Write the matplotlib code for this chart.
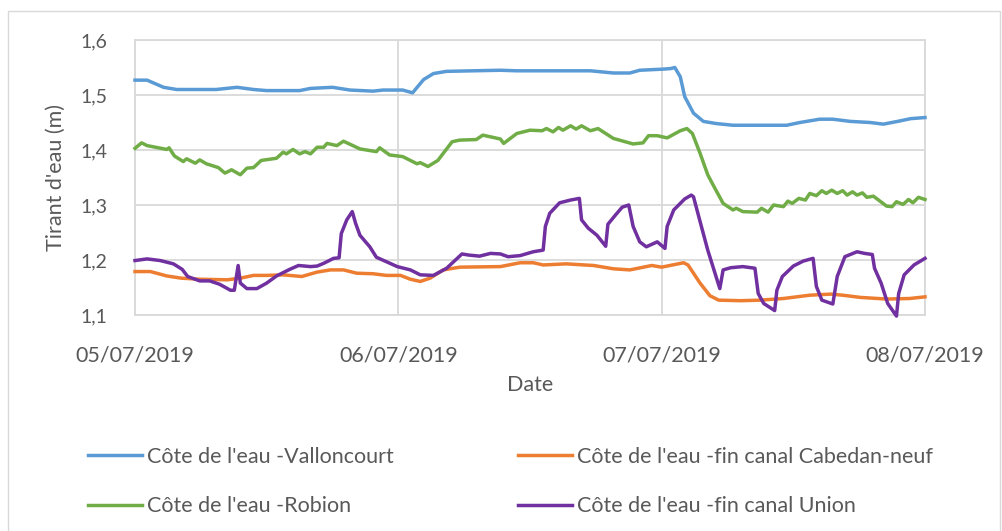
import numpy as np
import pandas as pd
import matplotlib
matplotlib.use("Agg")
from matplotlib import pyplot as plt
from matplotlib.patches import Rectangle
import matplotlib.dates as mdates

plt.rcParams['font.family'] = ['Lato', 'DejaVu Sans']

start = pd.Timestamp('2019-07-05')

# Côte de l'eau -Valloncourt (hours since 05/07/2019 00:00, metres)
vall_h = [0, 1.1, 2.6, 3.8, 7.4, 9.3, 10.8, 12, 15, 16,
          18, 19.6, 21.7, 22.6, 24.4, 25.3, 26.3, 27.2, 28.4, 33.3,
          34.8, 41.5, 43.6, 45.1, 46, 48.1, 48.8, 49.2, 49.7, 50.1,
          50.9, 51.8, 53, 54.5, 59.4, 60.6, 62.4, 63.6, 65.2, 67,
          68.2, 69.5, 70.7, 72]
vall_v = [1.527, 1.527, 1.514, 1.510, 1.510, 1.514, 1.510, 1.508, 1.508, 1.512,
          1.514, 1.509, 1.507, 1.509, 1.509, 1.504, 1.528, 1.539, 1.543, 1.545,
          1.544, 1.544, 1.540, 1.540, 1.545, 1.547, 1.548, 1.550, 1.533, 1.497,
          1.467, 1.452, 1.448, 1.445, 1.445, 1.450, 1.456, 1.456, 1.452, 1.450,
          1.447, 1.452, 1.457, 1.459]

# Côte de l'eau -fin canal Cabedan-neuf
cab_h = [0, 1.4, 2.9, 4.2, 5.9, 8.4, 9.6, 10.8, 12, 13.5,
         15.2, 16.6, 17.8, 19, 20.2, 21.7, 22.9, 24.2, 25.1, 26,
         26.9, 28.1, 29.6, 33.3, 35.1, 36.3, 37.2, 39.3, 41.8, 43.6,
         45.1, 47.1, 48, 50, 50.4, 51.5, 52.4, 53.2, 55.2, 57,
         59.1, 61.5, 63.4, 64.5, 66.1, 68.5, 70.6, 72]
cab_v = [1.179, 1.179, 1.171, 1.167, 1.165, 1.164, 1.167, 1.172, 1.172, 1.173,
         1.170, 1.178, 1.182, 1.182, 1.176, 1.175, 1.172, 1.172, 1.165, 1.161,
         1.167, 1.182, 1.187, 1.188, 1.195, 1.195, 1.191, 1.193, 1.190, 1.184,
         1.182, 1.190, 1.187, 1.195, 1.191, 1.158, 1.135, 1.127, 1.126, 1.127,
         1.130, 1.136, 1.138, 1.136, 1.132, 1.129, 1.130, 1.133]

# Côte de l'eau -Robion
rob_h = [0, 0.6, 1.1, 2.9, 3.1, 3.6, 4.4, 4.7, 5.5, 5.9,
         6.5, 7.6, 8.2, 8.8, 9.6, 10.2, 10.8, 11.5, 12.9, 13.5,
         13.8, 14.4, 15, 15.5, 16, 16.6, 17.2, 17.5, 18.4, 19,
         20.5, 22, 22.3, 23.2, 24.4, 25.7, 26, 26.7, 27.6, 28.9,
         29.6, 31.1, 31.7, 33.3, 33.6, 34.8, 36, 37.1, 37.5, 38.1,
         38.6, 39, 39.7, 40.2, 40.7, 41.5, 42.2, 43.6, 45.4, 46.3,
         46.8, 47.6, 48.5, 49.7, 50.3, 50.8, 51.5, 52.2, 52.7, 53.6,
         54.5, 54.8, 55.4, 56.7, 57.1, 57.7, 58.2, 59.1, 59.5, 59.9,
         60.5, 61.1, 61.5, 62.1, 62.6, 63, 63.5, 64, 64.5, 64.9,
         65.4, 65.8, 66.3, 66.7, 67.3, 68.5, 69, 69.4, 70, 70.5,
         70.9, 71.4, 72]
rob_v = [1.403, 1.413, 1.408, 1.401, 1.404, 1.389, 1.379, 1.384, 1.376, 1.382,
         1.375, 1.368, 1.358, 1.364, 1.355, 1.367, 1.368, 1.381, 1.385, 1.396,
         1.393, 1.401, 1.393, 1.397, 1.393, 1.405, 1.405, 1.412, 1.408, 1.416,
         1.402, 1.397, 1.404, 1.391, 1.388, 1.375, 1.377, 1.370, 1.381, 1.415,
         1.418, 1.419, 1.427, 1.420, 1.412, 1.430, 1.436, 1.435, 1.439, 1.433,
         1.441, 1.436, 1.444, 1.438, 1.444, 1.435, 1.439, 1.421, 1.411, 1.413,
         1.426, 1.426, 1.422, 1.435, 1.439, 1.430, 1.394, 1.355, 1.336, 1.303,
         1.291, 1.294, 1.288, 1.287, 1.294, 1.287, 1.300, 1.297, 1.307, 1.303,
         1.312, 1.309, 1.321, 1.317, 1.326, 1.321, 1.327, 1.321, 1.326, 1.318,
         1.324, 1.318, 1.322, 1.314, 1.316, 1.298, 1.297, 1.306, 1.301, 1.310,
         1.304, 1.314, 1.310]

# Côte de l'eau -fin canal Union
uni_h = [0, 1.1, 2.3, 3.5, 4.3, 4.8, 5.9, 6.8, 7.7, 8.7,
         9.05, 9.4, 9.6, 10.2, 11.1, 12, 12.9, 14.1, 14.9, 16,
         16.6, 17.2, 18.1, 18.6, 18.8, 19.3, 19.8, 20.1, 20.5, 21.4,
         22, 22.9, 23.9, 25.1, 26, 27.2, 28.4, 29.8, 30.4, 31.4,
         32.4, 33.3, 34, 35.1, 36.3, 37.2, 37.4, 37.8, 38.7, 39.7,
         40.5, 40.7, 41.3, 42.1, 42.5, 42.9, 43.1, 43.8, 44.4, 45,
         45.4, 46, 46.6, 47.6, 48.3, 48.5, 49.1, 50.1, 50.7, 50.9,
         51.5, 52.2, 53.3, 53.6, 54.3, 55.4, 56.5, 56.8, 57.3, 58.3,
         58.5, 59, 60, 60.9, 61.8, 62.1, 62.6, 63.6, 64, 64.7,
         65.8, 66.5, 67.2, 67.4, 68, 68.6, 69.4, 69.6, 70.1, 71,
         72]
uni_v = [1.199, 1.202, 1.199, 1.193, 1.183, 1.170, 1.162, 1.162, 1.156, 1.145,
         1.145, 1.190, 1.158, 1.148, 1.148, 1.158, 1.171, 1.183, 1.190, 1.188,
         1.189, 1.194, 1.203, 1.204, 1.248, 1.273, 1.288, 1.267, 1.245, 1.224,
         1.205, 1.197, 1.188, 1.182, 1.173, 1.172, 1.185, 1.211, 1.209, 1.207,
         1.212, 1.211, 1.206, 1.208, 1.215, 1.218, 1.261, 1.285, 1.304, 1.309,
         1.312, 1.273, 1.258, 1.245, 1.235, 1.225, 1.265, 1.282, 1.296, 1.300,
         1.261, 1.233, 1.224, 1.233, 1.221, 1.261, 1.291, 1.311, 1.318, 1.315,
         1.270, 1.218, 1.148, 1.182, 1.186, 1.188, 1.185, 1.139, 1.121, 1.108,
         1.145, 1.170, 1.189, 1.198, 1.203, 1.152, 1.127, 1.120, 1.170, 1.206,
         1.215, 1.212, 1.210, 1.185, 1.158, 1.121, 1.098, 1.139, 1.173, 1.191,
         1.203]

labels = ["Côte de l'eau -Valloncourt", "Côte de l'eau -fin canal Cabedan-neuf",
          "Côte de l'eau -Robion", "Côte de l'eau -fin canal Union"]
colors = ['#5B9BD5', '#ED7D31', '#70AD47', '#7030A0']
yticks = [1.1, 1.2, 1.3, 1.4, 1.5, 1.6]
ytick_labels = ['1,1', '1,2', '1,3', '1,4', '1,5', '1,6']


def to_dates(hours):
    return start + pd.to_timedelta(np.array(hours), unit='h')


txt = '#595959'
grid = '#D9D9D9'

fig = plt.figure(figsize=(10.02, 5.31), dpi=100)
fig.patches.append(Rectangle((8 / 1002, -0.01), 992 / 1002, 1 - 11 / 531 + 0.01,
                             transform=fig.transFigure, fill=False,
                             edgecolor=grid, lw=1))

ax = fig.add_axes([135 / 1002, 1 - 315 / 531, 790 / 1002, 275 / 531])

series = [(vall_h, vall_v), (cab_h, cab_v), (rob_h, rob_v), (uni_h, uni_v)]
lines = []
for (h, v), lab, col in zip(series, labels, colors):
    ln, = ax.plot(to_dates(h), v, color=col, lw=2.5, label=lab,
                  solid_joinstyle='round', clip_on=False, zorder=3)
    lines.append(ln)

ax.set_ylim(1.1, 1.6)
ax.set_yticks(yticks)
ax.set_yticklabels(ytick_labels)
ax.set_xlim(start, start + pd.Timedelta(days=3))
ax.set_xticks(pd.date_range(start, periods=4, freq='D'))
ax.xaxis.set_major_formatter(mdates.DateFormatter('%d/%m/%Y'))
ax.grid(True, color=grid, lw=1.3)
ax.set_axisbelow(True)
for s in ax.spines.values():
    s.set_color(grid)
    s.set_linewidth(1.3)
ax.tick_params(axis='x', length=0, pad=22, labelsize=15.5, colors=txt)
ax.tick_params(axis='y', length=0, pad=20, labelsize=14, colors=txt)
ax.set_xlabel('Date', fontsize=15.5, color=txt, labelpad=7)
ax.set_ylabel("Tirant d'eau (m)", fontsize=15.5, color=txt, labelpad=10)

# Excel legend order: column-wise Valloncourt, Robion | Cabedan-neuf, Union
order = [0, 2, 1, 3]
fig.legend([lines[i] for i in order], [labels[i] for i in order],
           loc='upper left', bbox_to_anchor=(88 / 1002, 1 - 447 / 531),
           ncol=2, frameon=False, fontsize=15.5, labelcolor=txt,
           handlelength=2.5, handletextpad=0.25, columnspacing=5.75,
           labelspacing=1.35, borderpad=0, borderaxespad=0)

fig.savefig('out.png', dpi=100)
